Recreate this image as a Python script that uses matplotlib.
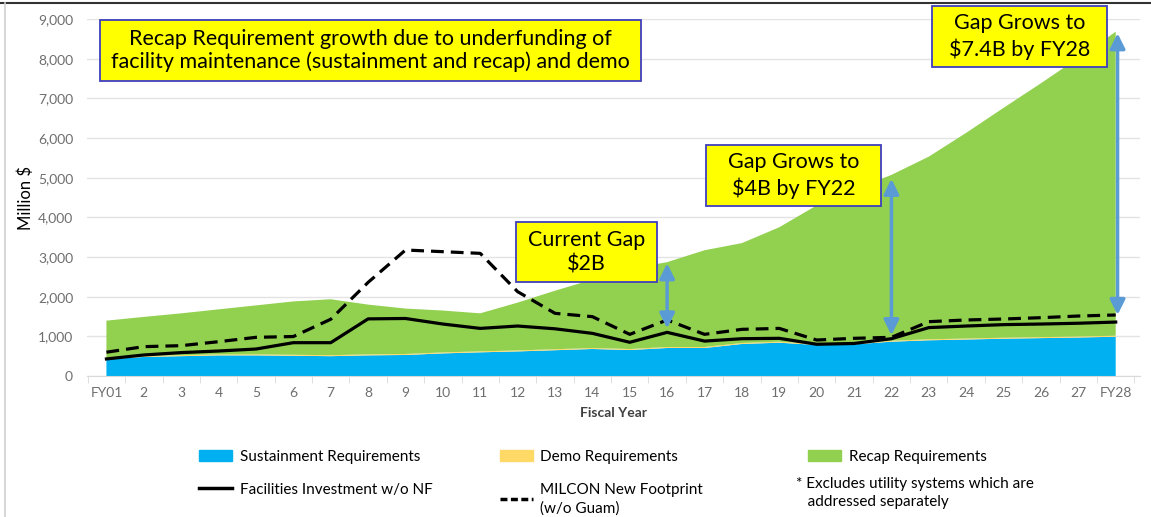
import numpy as np
import matplotlib.pyplot as plt
from matplotlib.patches import Patch, Rectangle
from matplotlib.lines import Line2D

years = ["FY01"] + [str(i) for i in range(2, 28)] + ["FY28"]

sustainment = [420, 480, 500, 520, 520, 510, 500, 520, 530, 570, 597, 620, 650, 681,
               655, 706, 706, 807, 840, 781, 798, 865, 900, 920, 940, 955, 970, 990]
demo = [25] * 28
total_req = [1395, 1490, 1580, 1680, 1780, 1880, 1935, 1800, 1700, 1650, 1580, 1850,
             2150, 2430, 2700, 2870, 3170, 3350, 3750, 4300, 4700, 5070, 5530, 6130,
             6760, 7380, 8020, 8680]
facilities_inv = [430, 530, 590, 630, 680, 840, 840, 1440, 1450, 1310, 1200, 1260,
                  1190, 1075, 850, 1100, 880, 940, 950, 800, 820, 940, 1220, 1260,
                  1295, 1310, 1330, 1360]
milcon_nf = [600, 740, 765, 865, 975, 995, 1430, 2360, 3176, 3134, 3092, 2126, 1580,
             1496, 1050, 1412, 1050, 1176, 1200, 907, 950, 975, 1370, 1412, 1437, 1470,
             1512, 1538]
recap = [t - s - d for t, s, d in zip(total_req, sustainment, demo)]

# gap arrows: (year index, bottom, top)
gaps = [(15, 1200, 2840), (21, 1030, 4970), (27.05, 1540, 8640)]

blue = "#00B0F0"
gold = "#FFD966"
green = "#92D050"
arrow_c = "#5B9BD5"

plt.rcParams["font.family"] = ["Lato", "DejaVu Sans"]

W, H = 1151, 517
fig = plt.figure(figsize=(W / 100, H / 100), dpi=100)
ax = fig.add_axes([87 / W, 1 - 376 / H, 1053 / W, 357 / H])

x = np.arange(len(years))
ax.stackplot(x, sustainment, demo, recap, colors=[blue, gold, green], linewidth=0)
ax.plot(x, facilities_inv, color="black", lw=2.3, zorder=3)
ax.plot(x, milcon_nf, color="black", lw=2.3, ls=(0, (4, 2.2)), zorder=3)

for gx, lo, hi in gaps:
    ax.annotate("", xy=(gx, hi), xytext=(gx, lo),
                arrowprops=dict(arrowstyle="<|-|>,head_width=0.45,head_length=0.9",
                                color=arrow_c, lw=2.5, shrinkA=0, shrinkB=0),
                zorder=4)

ax.set_xlim(-0.52, 27.65)
ax.set_ylim(0, 9000)
ax.set_yticks(np.arange(0, 9001, 1000))
ax.set_yticklabels([f"{v:,}" for v in range(0, 9001, 1000)])
ax.set_xticks(x)
ax.set_xticklabels(years)
ax.set_xticks(np.arange(-0.5, 27.6, 1), minor=True)
ax.tick_params(axis="x", which="major", length=0, pad=8, labelsize=10, labelcolor="#6E6E6E")
ax.tick_params(axis="x", which="minor", length=5, color="#D9D9D9")
ax.tick_params(axis="y", length=0, pad=10, labelsize=10, labelcolor="#6E6E6E")
ax.grid(axis="y", color="#E3E3E3", lw=1)
ax.set_axisbelow(True)
for s in ["top", "right", "left"]:
    ax.spines[s].set_visible(False)
ax.spines["bottom"].set_color("#D9D9D9")

ax.set_ylabel("Million $", fontsize=12, labelpad=3)
ax.set_xlabel("Fiscal Year", fontsize=10, fontweight="bold", color="#404040", labelpad=6)


def callout(x0, y0, x1, y1, txt, pitch):
    # box given in picture pixels (left, top, right, bottom)
    fig.add_artist(Rectangle((x0 / W, 1 - y1 / H), (x1 - x0) / W, (y1 - y0) / H,
                             transform=fig.transFigure, facecolor="#FFFF00",
                             edgecolor="#3F3FBF", lw=1.3, zorder=5))
    fig.text((x0 + x1) / 2 / W, 1 - (y0 + y1) / 2 / H, txt, ha="center", va="center",
             fontsize=15.5, linespacing=pitch, zorder=6)


callout(100, 20, 641, 81, "Recap Requirement growth due to underfunding of\n"
        "facility maintenance (sustainment and recap) and demo", 1.17)
callout(516, 222, 657, 282, "Current Gap\n$2B", 1.3)
callout(706, 145, 881, 206, "Gap Grows to\n$4B by FY22", 1.3)
callout(932, 6, 1107, 67, "Gap Grows to\n$7.4B by FY28", 1.3)

leg_kw = dict(frameon=False, fontsize=11, handlelength=2.15, handletextpad=0.5,
              labelspacing=1.25, borderaxespad=0)
h1 = [Patch(color=blue), Line2D([], [], color="black", lw=2.5)]
fig.legend(h1, ["Sustainment Requirements", "Facilities Investment w/o NF"],
           loc="upper left", bbox_to_anchor=(0.168, 0.142), **leg_kw)
h2 = [Patch(color=gold), Line2D([], [], color="black", lw=2.5, ls=(0, (2, 1)))]
leg2 = fig.legend(h2, ["Demo Requirements", "MILCON New Footprint\n(w/o Guam)"],
                  loc="upper left", bbox_to_anchor=(0.429, 0.142), **leg_kw)
for t in leg2.get_texts():
    t.set_linespacing(1.4)
fig.legend([Patch(color=green)], ["Recap Requirements"], loc="upper left",
           bbox_to_anchor=(0.697, 0.142), **leg_kw)
fig.text(0.692, 1 - 493 / H, "* Excludes utility systems which are\n   addressed separately",
         fontsize=11, va="center", linespacing=1.4)

fig.add_artist(Line2D([0, 1], [0.9945, 0.9945], color="#333333", lw=1.5,
                      transform=fig.transFigure))
fig.add_artist(Line2D([0.0045, 0.0045], [0, 0.9945], color="#D0D0D0", lw=1.2,
                      transform=fig.transFigure))

fig.savefig("out.png", dpi=100)
